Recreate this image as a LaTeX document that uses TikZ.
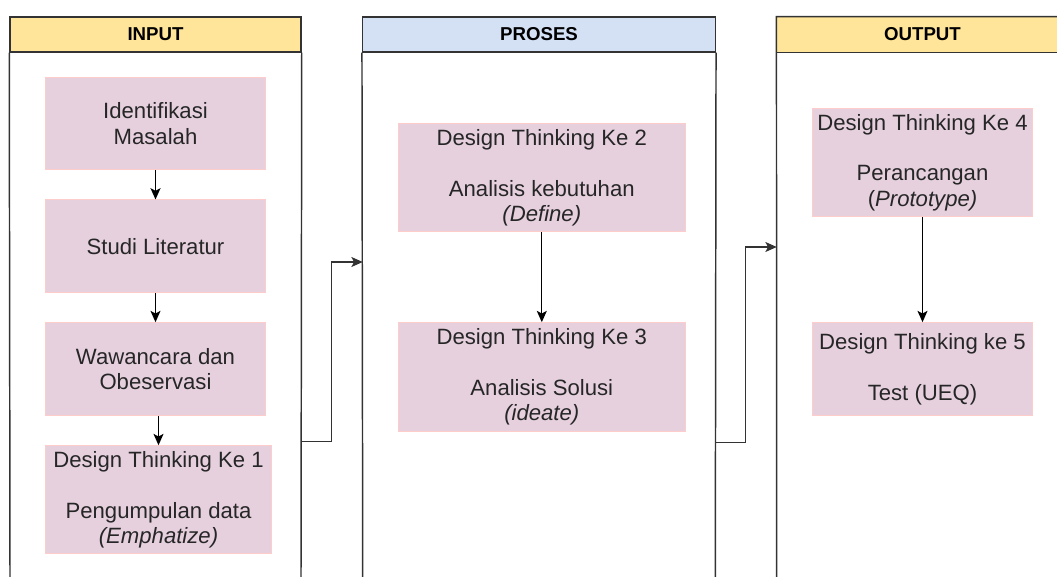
\documentclass[tikz,border=0pt]{standalone}
\usepackage{fontspec}
\setmainfont{Liberation Sans}
\usetikzlibrary{fit,arrows.meta}
\definecolor{headyellow}{HTML}{FFE599}
\definecolor{headblue}{HTML}{D4E1F5}
\definecolor{boxfill}{HTML}{E6D0DE}
\definecolor{boxline}{HTML}{FFCCCC}
\definecolor{laneline}{HTML}{333333}
\definecolor{txt}{HTML}{262626}
\tikzset{
  lanehead/.style={inner sep=0pt, line width=1.1pt, draw=laneline},
  headtext/.style={inner sep=0pt, text=black, font=\fontsize{14pt}{16pt}\selectfont\bfseries},
  laneside/.style={line width=1.1pt, draw=laneline},
  stepbox/.style={inner sep=0pt, fill=boxfill, draw=boxline, line width=0.75pt},
  steptext/.style={inner sep=0pt, align=center, text=txt, font=\fontsize{16.6pt}{19pt}\selectfont},
  arr/.style={line width=1pt, draw=black, -{Stealth[length=8.5pt,width=7.5pt,inset=2pt]}},
  link/.style={line width=1pt, draw=laneline, -{Stealth[length=8.5pt,width=7.5pt,inset=2pt]}}
}
\begin{document}
\begin{tikzpicture}[x=0.75pt,y=-0.75pt]
\useasboundingbox (0,0) rectangle (1057,577);

% lanes
\node[lanehead, fill=headyellow, fit={(10,17) (301,52)}] (inH) {};
\node[headtext] at (inH.center) (inT) {INPUT};
\draw[laneside] (inH.south west) -- (10,577);
\draw[laneside] (inH.south east) -- (301,577);

\node[lanehead, fill=headblue, fit={(362.7,17) (715.3,52)}] (prH) {};
\node[headtext] at (prH.center) (prT) {PROSES};
\draw[laneside] (prH.south west) -- (362.7,577);
\draw[laneside] (prH.south east) -- (715.3,577);

\node[inner sep=0pt, fill=headyellow, fit={(776.7,17) (1058,52)}] (outH) {};
\node[headtext] at (outH.center -| 922.5,0) (outT) {OUTPUT};
\draw[laneside] (outH.north east) -- (outH.north west) -- (776.7,577);
\draw[laneside] (outH.south west) -- (outH.south east);

% INPUT boxes
\node[stepbox, fit={(45.7,77.3) (265.3,170)}] (b1) {};
\node[steptext] at (b1.center) (b1t) {Identifikasi\\Masalah};
\node[stepbox, fit={(45.7,200) (265.3,292.7)}] (b2) {};
\node[steptext] at (b2.center) (b2t) {Studi Literatur};
\node[stepbox, fit={(45.7,322.7) (265.3,415.7)}] (b3) {};
\node[steptext] at (b3.center) (b3t) {Wawancara dan\\Obeservasi};
\node[stepbox, fit={(45.7,445.7) (271.3,553.7)}] (b4) {};
\node[steptext] at (b4.center) (b4t) {Design Thinking Ke 1\\[19pt]Pengumpulan data\\\textit{(Emphatize)}};

% PROSES boxes
\node[stepbox, fit={(398.3,124) (685.3,231.7)}] (d2) {};
\node[steptext] at (d2.center) (d2t) {Design Thinking Ke 2\\[19pt]Analisis kebutuhan\\\textit{(Define)}};
\node[stepbox, fit={(398.3,322.7) (685.3,431)}] (d3) {};
\node[steptext] at (d3.center) (d3t) {Design Thinking Ke 3\\[19pt]Analisis Solusi\\\textit{(ideate)}};

% OUTPUT boxes
\node[stepbox, fit={(812.7,108.3) (1032.3,216.7)}] (d4) {};
\node[steptext] at (d4.center) (d4t) {Design Thinking Ke 4\\[19pt]Perancangan\\(\textit{Prototype)}};
\node[stepbox, fit={(812.7,322.7) (1032.3,415.7)}] (d5) {};
\node[steptext] at (d5.center) (d5t) {Design Thinking ke 5\\[19pt]Test (UEQ)};

% arrows inside lanes
\draw[arr] (b1.south) -- (b2.north);
\draw[arr] (b2.south) -- (b3.north);
\draw[arr] (b4.north |- b3.south) -- (b4.north);
\draw[arr] (d2.south) -- (d3.north);
\draw[arr] (d4.south) -- (d5.north);

% links between lanes
\coordinate (l1s) at (301,441.3);
\coordinate (l1e) at (362.7,262);
\draw[link] (l1s) -- (331.5,441.3) |- (l1e);
\coordinate (l2s) at (715.3,442.3);
\coordinate (l2e) at (776.7,247);
\draw[link] (l2s) -- (745.7,442.3) |- (l2e);
\end{tikzpicture}
\end{document}
